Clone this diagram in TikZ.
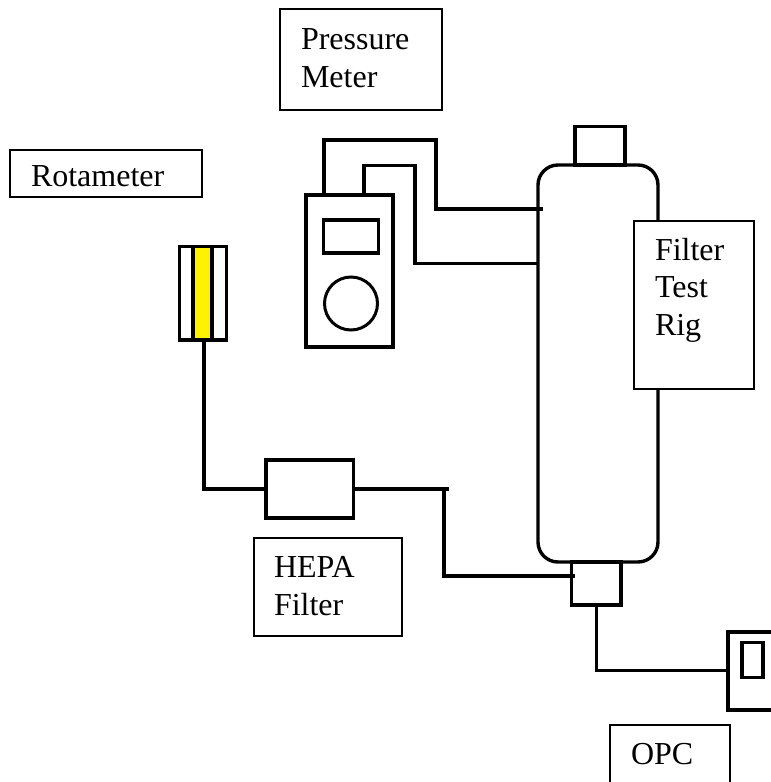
\documentclass[tikz,border=0pt]{standalone}
\usepackage{fontspec}
\setmainfont{Liberation Serif}
\tikzset{
  x=1pt,y=-1pt,
  part/.style={draw=black,line width=3.4pt,inner sep=0pt,outer sep=0pt,fill=white},
  labelbox/.style={draw=black,line width=2pt,inner sep=0pt,outer sep=0pt,fill=white},
  labeltext/.style={anchor=base west,inner sep=0pt,outer sep=0pt,align=left,font=\fontsize{32}{37.5}\selectfont},
  pipe/.style={draw=black,line width=3.4pt,line join=miter}
}
% name, style, x1, y1, x2, y2
\newcommand{\placebox}[6]{\node[#2,minimum width={(#5)-(#3)},minimum height={(#6)-(#4)}] (#1) at ({((#3)+(#5))/2},{((#4)+(#6))/2}) {};}
\begin{document}
\begin{tikzpicture}
\clip (0,0) rectangle (771,782);
\fill[white] (0,0) rectangle (771,782);
% label boxes
\placebox{pressurebox}{labelbox}{280}{9}{442}{110}
\node[labeltext] (pressuretext) at (301,87) {Pressure\\Meter};
\placebox{rotabox}{labelbox}{10}{149.5}{202}{196.5}
\node[labeltext] (rotatext) at (31,186.5) {Rotameter};
% rotameter
\placebox{rota}{part}{179.5}{246.5}{226.5}{340}
\placebox{tube}{part,fill=yellow}{193}{246.5}{212}{340}
% meter
\placebox{meter}{part}{306}{195}{393}{347}
\placebox{display}{part}{323.5}{220}{378.5}{253}
\node[draw=black,line width=3pt,circle,inner sep=0pt,outer sep=0pt,minimum size=53pt] (dial) at (351,303.5) {};
% vessel
\node[draw=black,line width=3.4pt,rounded corners=20pt,inner sep=0pt,outer sep=0pt,minimum width=120pt,minimum height=397pt] (vessel) at (598,363.5) {};
\placebox{topcap}{part}{575}{126.5}{625}{165}
\placebox{botcap}{part}{571.5}{562}{621}{605}
% pipes
\coordinate (m1) at (324,195);
\coordinate (c1) at (436,140);
\coordinate (v1) at (543,209);
\coordinate (m2) at (364,195);
\coordinate (c2) at (415,165.5);
\coordinate (v2) at (538,263.5);
\draw[pipe] (m1) |- (c1) |- (v1);
\draw[pipe] (m2) |- (c2) |- (v2);
% rotameter to filter
\placebox{hepa}{part}{266}{460}{353.5}{518}
\coordinate (r1) at (204,340);
\coordinate (t1) at (449,489);
\coordinate (j1) at (444,489);
\coordinate (b1) at (575,576);
\draw[pipe] (r1) |- (hepa.west);
\draw[pipe] (hepa.east) -- (t1);
\draw[pipe] (j1) |- (b1);
% OPC device
\placebox{opc}{part,line width=4pt}{727.5}{631.5}{815}{709.5}
\placebox{opcinner}{part}{742}{642.5}{763}{677.5}
\draw[pipe] (botcap.south) |- (opc.west);
% labels over the parts
\placebox{rigbox}{labelbox}{634}{221}{754}{388.5}
\node[labeltext] (rigtext) at (655,335) {Filter\\Test\\Rig};
\placebox{hepabox}{labelbox}{253.5}{538}{402}{636}
\node[labeltext] (hepatext) at (274,615) {HEPA\\Filter};
\placebox{opcbox}{labelbox}{610}{725}{730}{800}
\node[labeltext] (opctext) at (631,764) {OPC};
\end{tikzpicture}
\end{document}
